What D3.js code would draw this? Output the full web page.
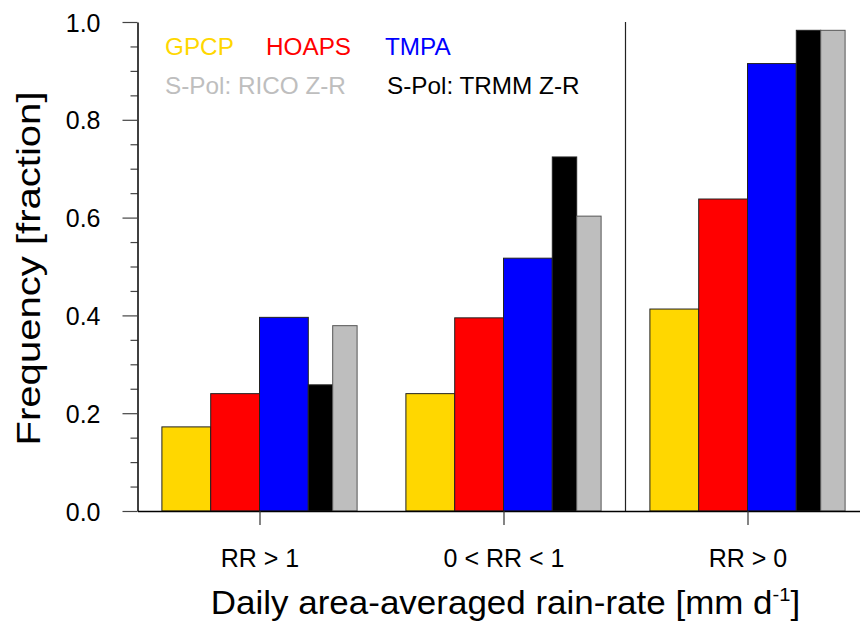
<!DOCTYPE html>
<html>
<head>
<meta charset="utf-8">
<script src="https://cdn.jsdelivr.net/npm/d3@7"></script>
<style>
  body { margin: 0; background: #fff; }
  svg { display: block; font-family: "Liberation Sans", Arial, Helvetica, sans-serif; }
</style>
</head>
<body>
<div id="chart"></div>
<script>
// Categories and series values
const categories = ["RR > 1", "0 < RR < 1", "RR > 0"];
const gpcp   = [0.172, 0.240, 0.413];
const hoaps  = [0.240, 0.395, 0.638];
const tmpa   = [0.396, 0.517, 0.915];
const trmmZR = [0.258, 0.724, 0.983];
const ricoZR = [0.379, 0.603, 0.983];

const seriesNames  = ["GPCP", "HOAPS", "TMPA", "S-Pol: TRMM Z-R", "S-Pol: RICO Z-R"];
const seriesColors = ["#FFD700", "#FF0000", "#0000FF", "#000000", "#BEBEBE"];
const seriesValues = [gpcp, hoaps, tmpa, trmmZR, ricoZR];

const yMajor = [0, 0.2, 0.4, 0.6, 0.8, 1.0];

const width = 860, height = 623;
const font = '"Liberation Sans", Arial, Helvetica, sans-serif';

const svg = d3.select("#chart").append("svg")
    .attr("width", width)
    .attr("height", height);

// scales: group centres at 1,2,3
const x = d3.scaleLinear().domain([0.5, 3.5]).range([137.5, 869.5]);
const y = d3.scaleLinear().domain([0, 1]).range([511, 22]);

// bar slots inside a group (in x units, relative to group centre)
const slots = [[-0.4, 0.2], [-0.2, 0.2], [0, 0.2], [0.2, 0.1], [0.3, 0.1]];

const bars = [];
seriesValues.forEach((vals, s) => {
    vals.forEach((v, i) => bars.push({ s, i, v }));
});

svg.append("g").selectAll("rect")
    .data(bars)
    .enter().append("rect")
    .attr("x", d => x(d.i + 1 + slots[d.s][0]))
    .attr("width", d => x(d.i + 1 + slots[d.s][0] + slots[d.s][1]) - x(d.i + 1 + slots[d.s][0]))
    .attr("y", d => y(d.v))
    .attr("height", d => y(0) - y(d.v))
    .style("fill", d => seriesColors[d.s])
    .style("stroke", d => d.s === 4 ? "#555" : "#222")
    .style("stroke-width", "1px");

// group separator
svg.append("line")
    .attr("x1", x(2.5)).attr("x2", x(2.5))
    .attr("y1", y(1)).attr("y2", y(0))
    .style("stroke", "#222").style("stroke-width", "1.2px");

// y axis minor ticks
const yMinor = d3.range(0, 1.0001, 0.05).filter(v => Math.abs(v * 5 - Math.round(v * 5)) > 1e-6);
svg.append("g")
    .attr("transform", `translate(${x(0.5)},0)`)
    .call(d3.axisLeft(y).tickValues(yMinor).tickSize(7).tickFormat(""))
    .call(g => g.select(".domain").remove())
    .call(g => g.selectAll("line").style("stroke", "#444").style("stroke-width", "1.2px"));

// y axis major ticks and labels
svg.append("g")
    .attr("transform", `translate(${x(0.5)},0)`)
    .call(d3.axisLeft(y).tickValues(yMajor).tickSize(15).tickSizeOuter(0).tickPadding(22).tickFormat(d3.format(".1f")))
    .call(g => g.select(".domain").style("stroke", "#000").style("stroke-width", "1.5px"))
    .call(g => g.selectAll("line").style("stroke", "#444").style("stroke-width", "1.2px"))
    .call(g => g.selectAll("text")
        .style("font-family", font).style("font-size", "25px").style("fill", "#000")
        .attr("dy", "0.36em"));

// x axis
svg.append("g")
    .attr("transform", `translate(0,${y(0)})`)
    .call(d3.axisBottom(x).tickValues([1, 2, 3]).tickSize(14).tickSizeOuter(0)
        .tickFormat(d => categories[d - 1]))
    .call(g => g.select(".domain").style("stroke", "#000").style("stroke-width", "1.5px"))
    .call(g => g.selectAll("line").style("stroke", "#333").style("stroke-width", "1.2px"))
    .call(g => g.selectAll("text")
        .style("font-family", font).style("font-size", "25px").style("fill", "#000")
        .attr("y", 56).attr("dy", null));

// y title
svg.append("text")
    .attr("transform", `translate(40,${(y(0) + y(1)) / 2 + 2}) rotate(-90)`)
    .attr("text-anchor", "middle")
    .attr("textLength", 354)
    .attr("lengthAdjust", "spacingAndGlyphs")
    .style("font-family", font).style("font-size", "33px")
    .text("Frequency [fraction]");

// x title
const xt = svg.append("text")
    .attr("transform", `translate(${x(2) + 2},614) scale(1.06,1)`)
    .attr("text-anchor", "middle")
    .style("font-family", font).style("font-size", "33px");
xt.append("tspan").text("Daily area-averaged rain-rate [mm d");
xt.append("tspan").attr("dy", -13).style("font-size", "19px").text("-1");
xt.append("tspan").attr("dy", 13).text("]");

// legend
const legendItems = [
    { name: seriesNames[0], color: seriesColors[0], lx: 165, ly: 55 },
    { name: seriesNames[1], color: seriesColors[1], lx: 266, ly: 55 },
    { name: seriesNames[2], color: seriesColors[2], lx: 385, ly: 55 },
    { name: seriesNames[4], color: seriesColors[4], lx: 165, ly: 94 },
    { name: seriesNames[3], color: seriesColors[3], lx: 387, ly: 94 }
];
svg.append("g").selectAll("text")
    .data(legendItems)
    .enter().append("text")
    .attr("x", d => d.lx)
    .attr("y", d => d.ly)
    .style("font-family", font).style("font-size", "24.3px")
    .style("fill", d => d.color)
    .text(d => d.name);
</script>
</body>
</html>
